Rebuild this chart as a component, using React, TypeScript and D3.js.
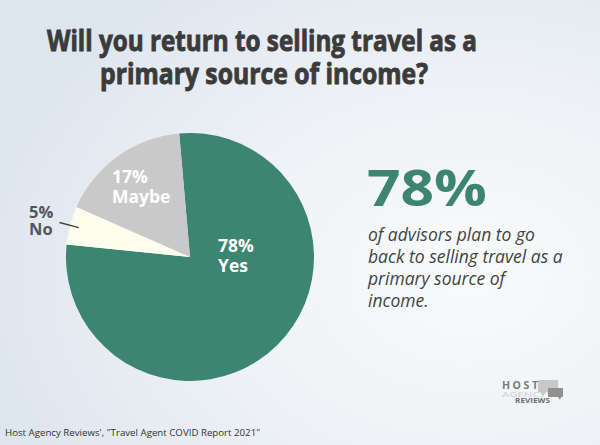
import React from "react";
import * as d3 from "d3";

const categories = ["Yes", "No", "Maybe"];
const values = [78, 5, 17];
const colors = ["#3c8570", "#fdfdee", "#c9c9c9"];
const titleLines = ["Will you return to selling travel as a", "primary source of income?"];
const bigStat = "78%";
const statLines = ["of advisors plan to go", "back to selling travel as a", "primary source of", "income."];
const source = "Host Agency Reviews', \"Travel Agent COVID Report 2021\"";

const W = 600, H = 445;
const cx = 190, cy = 257, R = 124;

export default function App() {
  const pie = d3.pie<number>().sort(null).value((d) => d)
    .startAngle(-5 * Math.PI / 180).endAngle(355 * Math.PI / 180);
  const arcs = pie(values);
  const arc = d3.arc<d3.PieArcDatum<number>>().innerRadius(0).outerRadius(R);
  const font = "'Open Sans', 'Noto Sans', sans-serif";
  const polar = (a: number, r: number) => [Math.sin(a) * r, -Math.cos(a) * r];
  const noMid = (arcs[1].startAngle + arcs[1].endAngle) / 2;
  const [n1x, n1y] = polar(noMid, 115);
  const [n2x, n2y] = polar(noMid, 135);
  return (
    <svg width={W} height={H} style={{ position: "absolute", left: 0, top: 0 }} fontFamily={font}>
      <defs>
        <radialGradient id="bg" cx="0.78" cy="0.62" r="0.85">
          <stop offset="0" stopColor="#f9fafb" />
          <stop offset="0.5" stopColor="#eef2f6" />
          <stop offset="1" stopColor="#dde5ed" />
        </radialGradient>
      </defs>
      <rect width={W} height={H} fill="url(#bg)" />
      <g fontWeight={700} fill="#3b3b3b" stroke="#3b3b3b" strokeWidth={0.9} fontSize={28.5} textAnchor="middle">
        <text x={262} y={51} textLength={430} lengthAdjust="spacingAndGlyphs">{titleLines[0]}</text>
        <text x={264} y={84} textLength={328} lengthAdjust="spacingAndGlyphs">{titleLines[1]}</text>
      </g>
      <g transform={`translate(${cx},${cy})`}>
        {arcs.map((a, i) => (
          <path key={categories[i]} d={arc(a) || ""} fill={colors[i]} />
        ))}
        <g fill="#ffffff" fontWeight={700} fontSize={17.5}>
          <text x={28} y={-5}>{values[0]}%</text>
          <text x={28} y={15}>{categories[0]}</text>
          <text x={-78} y={-74}>{values[2]}%</text>
          <text x={-78} y={-54}>{categories[2]}</text>
        </g>
        <line x1={n1x} y1={n1y} x2={n2x} y2={n2y} stroke="#444" strokeWidth={1.5} />
        <g fill="#555" fontWeight={700} fontSize={16.5}>
          <text x={-161} y={-39}>{values[1]}%</text>
          <text x={-161} y={-22}>{categories[1]}</text>
        </g>
      </g>
      <text x={367} y={206} fill="#3c8570" fontWeight={700} fontSize={50} textLength={120} lengthAdjust="spacingAndGlyphs">{bigStat}</text>
      <g fill="#444" fontStyle="italic" fontSize={17.5}>
        {statLines.map((t, i) => (
          <text key={i} x={368} y={241 + i * 22}>{t}</text>
        ))}
      </g>
      <text x={5} y={436} fontSize={9.7} fill="#333">{source}</text>
      <g>
        <rect x={538} y={380} width={20} height={12} fill="#c8c8c8" />
        <path d="M541,392 L543,396 L546,392 Z" fill="#c8c8c8" />
        <rect x={548} y={388} width={15} height={9} fill="#909090" />
        <path d="M558,397 L560,400 L561,397 Z" fill="#909090" />
        <text x={502} y={389} fontSize={10.5} fontWeight={700} fill="#7a7a7a" textLength={36} lengthAdjust="spacing">HOST</text>
        <text x={502} y={396.5} fontSize={8} fill="#cdcdcd" textLength={44} lengthAdjust="spacingAndGlyphs">AGENCY</text>
        <text x={515} y={403} fontSize={7.5} fontWeight={700} fill="#6e6e6e" textLength={35} lengthAdjust="spacingAndGlyphs">REVIEWS</text>
      </g>
    </svg>
  );
}
